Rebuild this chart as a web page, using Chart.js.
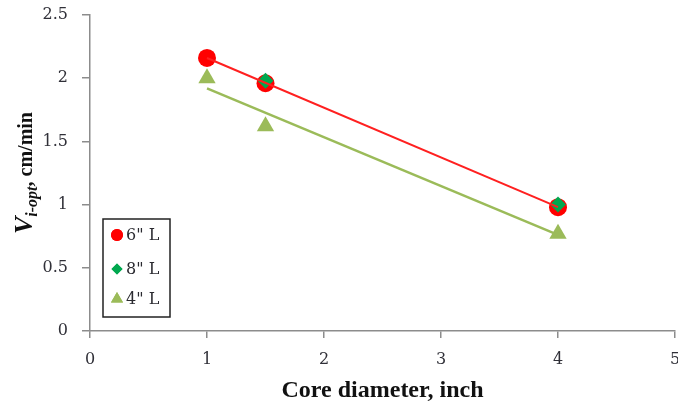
<!DOCTYPE html>
<html lang="en">
<head>
<meta charset="UTF-8">
<title>Core diameter vs V i-opt</title>
<script src="https://cdn.jsdelivr.net/npm/chart.js"></script>
<style>
  html, body { margin: 0; padding: 0; background: #fff; }
  #wrap { width: 678px; height: 405px; position: relative; }
</style>
</head>
<body>
<div id="wrap"><canvas id="chart"></canvas></div>
<script>
// data
const coreDiameter = [1, 1.5, 4];
const len6 = [2.16, 1.96, 0.98];
const len8x = [1.5, 4];
const len8 = [1.98, 1.00];
const len4 = [2.00, 1.62, 0.77];
// trend line ends
const trendX = [1, 4];
const trend6 = [2.16, 0.98];
const trend4 = [1.92, 0.76];
const xTicks = [0, 1, 2, 3, 4, 5];
const yTicks = [0, 0.5, 1, 1.5, 2, 2.5];
const legendLabels = ['6" L', '8" L', '4" L'];

const pts = (xs, ys) => xs.map((x, i) => ({ x: x, y: ys[i] }));

const serif = '"Liberation Serif", "Times New Roman", serif';
const wideSerif = '"DejaVu Serif", serif';
const tickColor = '#303038';
const axisGray = '#8c8c8c';

// y title with subscript + framed legend
const extras = {
    id: 'extras',
    afterDraw(chart) {
        const ctx = chart.ctx;
        ctx.save();
        ctx.translate(32, 173);
        ctx.rotate(-Math.PI / 2);
        ctx.fillStyle = '#111';
        ctx.textBaseline = 'alphabetic';
        ctx.textAlign = 'left';
        const parts = [
            { t: 'V', f: 'italic bold 26px ' + serif, dy: 0 },
            { t: 'i-opt', f: 'italic bold 16px ' + serif, dy: 5 },
            { t: ', cm/min', f: 'bold 20px ' + serif, dy: 0 }
        ];
        let total = 0;
        parts.forEach(p => { ctx.font = p.f; p.w = ctx.measureText(p.t).width; total += p.w; });
        let x = -total / 2;
        parts.forEach(p => { ctx.font = p.f; ctx.fillText(p.t, x, p.dy); x += p.w; });
        ctx.restore();

        // legend
        ctx.save();
        ctx.strokeStyle = '#222';
        ctx.lineWidth = 1.5;
        ctx.fillStyle = '#fff';
        ctx.fillRect(103, 219, 67, 98);
        ctx.strokeRect(103, 219, 67, 98);
        const rowY = [235, 269, 299];
        ctx.font = '16px ' + wideSerif;
        ctx.textBaseline = 'middle';
        legendLabels.forEach((label, i) => {
            const d = chart.data.datasets[i];
            ctx.fillStyle = d.backgroundColor;
            ctx.beginPath();
            Chart.helpers.drawPoint(ctx, {
                pointStyle: d.pointStyle,
                radius: d.legendRadius,
                rotation: 0,
                borderWidth: 0
            }, 117, rowY[i]);
            ctx.fill();
            ctx.fillStyle = '#2a2a30';
            ctx.fillText(label, 126, rowY[i] + 1);
        });
        ctx.restore();
    }
};

new Chart(document.getElementById('chart'), {
    type: 'scatter',
    data: {
        datasets: [
            {
                label: legendLabels[0],
                data: pts(coreDiameter, len6),
                pointStyle: 'circle',
                pointRadius: 9,
                legendRadius: 6,
                backgroundColor: '#ff0000',
                borderColor: '#ff0000',
                borderWidth: 0,
                order: 3
            },
            {
                label: legendLabels[1],
                data: pts(len8x, len8),
                pointStyle: 'rectRot',
                pointRadius: 8,
                legendRadius: 5.5,
                backgroundColor: '#00a84f',
                borderColor: '#00a84f',
                borderWidth: 0,
                order: 2
            },
            {
                label: legendLabels[2],
                data: pts(coreDiameter, len4),
                pointStyle: 'triangle',
                pointRadius: 10,
                legendRadius: 7,
                backgroundColor: '#9bbb59',
                borderColor: '#9bbb59',
                borderWidth: 0,
                order: 1
            },
            {
                label: 'trend 6',
                data: pts(trendX, trend6),
                showLine: true,
                pointRadius: 0,
                borderColor: '#ff2020',
                borderWidth: 2,
                order: 0
            },
            {
                label: 'trend 4',
                data: pts(trendX, trend4),
                showLine: true,
                pointRadius: 0,
                borderColor: '#9bbb59',
                borderWidth: 2.5,
                order: 0
            }
        ]
    },
    options: {
        responsive: true,
        maintainAspectRatio: false,
        animation: false,
        layout: { autoPadding: false, padding: { top: 15, right: 3, left: 0, bottom: 0 } },
        plugins: {
            legend: { display: false },
            tooltip: { enabled: false }
        },
        scales: {
            x: {
                type: 'linear',
                min: 0,
                max: 5,
                afterBuildTicks: s => { s.ticks = xTicks.map(v => ({ value: v })); },
                afterFit: s => { s.height = 74; s.paddingLeft = 0; s.paddingRight = 0; },
                border: { color: axisGray, width: 1.5 },
                grid: { drawOnChartArea: false, drawTicks: true, tickLength: 7, color: axisGray, lineWidth: 1.5 },
                ticks: { color: tickColor, font: { family: wideSerif, size: 16 }, padding: 12, maxRotation: 0 },
                title: {
                    display: true,
                    text: 'Core diameter, inch',
                    color: '#111',
                    font: { family: serif, size: 24, weight: 'bold' },
                    padding: { top: 0, bottom: 0 }
                }
            },
            y: {
                type: 'linear',
                min: 0,
                max: 2.5,
                afterBuildTicks: s => { s.ticks = yTicks.map(v => ({ value: v })); },
                afterFit: s => { s.width = 90; s.paddingTop = 0; s.paddingBottom = 0; },
                border: { color: axisGray, width: 1.5 },
                grid: { drawOnChartArea: false, drawTicks: true, tickLength: 8, color: axisGray, lineWidth: 1.5 },
                ticks: {
                    color: tickColor,
                    font: { family: wideSerif, size: 16 },
                    padding: 14,
                    callback: v => String(v)
                }
            }
        }
    },
    plugins: [extras]
});
</script>
</body>
</html>
